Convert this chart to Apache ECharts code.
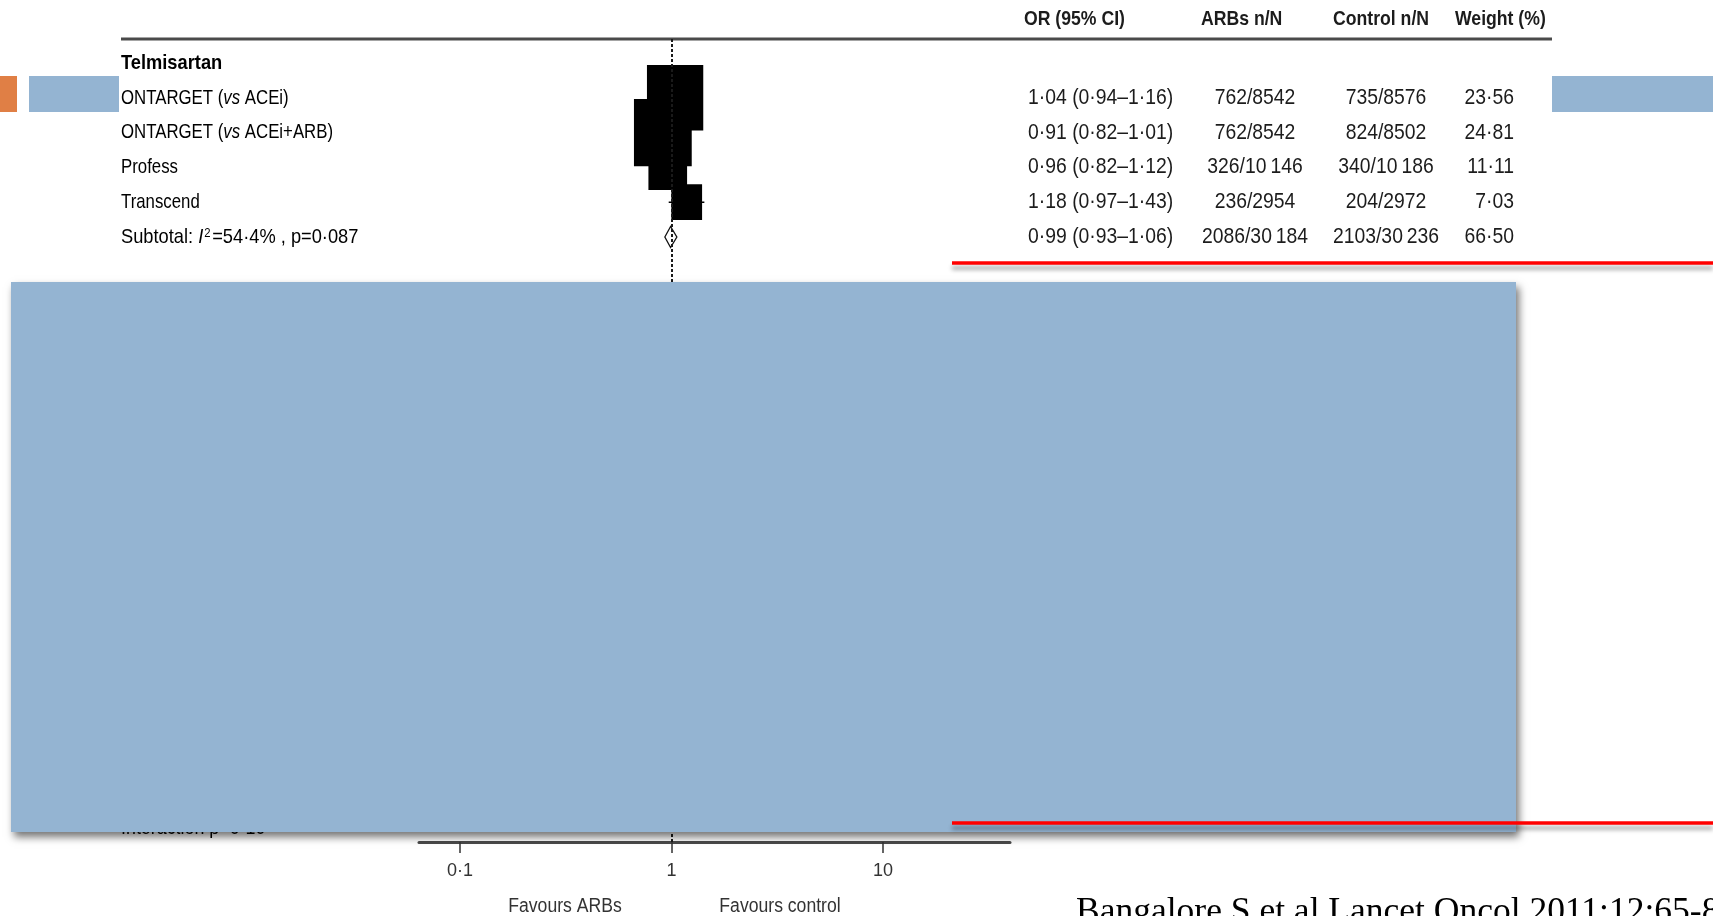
<!DOCTYPE html>
<html><head><meta charset="utf-8">
<script src="https://cdn.jsdelivr.net/npm/echarts@6/dist/echarts.min.js"></script>
<style>html,body{margin:0;padding:0;background:#fff;overflow:hidden}#c{width:1713px;height:916px;}</style>
</head><body><div id="c"></div>
<script>
// ---------------- data ----------------
const groupName = 'Telmisartan';
const studies = ['ONTARGET (vs ACEi)', 'ONTARGET (vs ACEi+ARB)', 'Profess', 'Transcend'];
const orValues = [1.04, 0.91, 0.96, 1.18];
const ciLower = [0.94, 0.82, 0.82, 0.97];
const ciUpper = [1.16, 1.01, 1.12, 1.43];
const arbsCounts = ['762/8542', '762/8542', '326/10\u2009146', '236/2954'];
const controlCounts = ['735/8576', '824/8502', '340/10\u2009186', '204/2972'];
const weights = [23.56, 24.81, 11.11, 7.03];
const subtotalOR = [0.99, 0.93, 1.06];
const subtotalArbs = '2086/30\u2009184';
const subtotalControl = '2103/30\u2009236';
const subtotalWeight = 66.50;
const subtotalI2 = 54.4;
const subtotalP = 0.087;
const headers = ['OR (95% CI)', 'ARBs n/N', 'Control n/N', 'Weight (%)'];
const xTicks = [0.1, 1, 10];
const favours = ['Favours ARBs', 'Favours control'];
const hiddenNote = 'Interaction p=0·10';
const citation = 'Bangalore S et al Lancet Oncol 2011;12:65-82';

// ---------------- styling ----------------
const SANS = "'Liberation Sans', Arial, sans-serif";
const SERIF = "'Liberation Serif', 'DejaVu Serif', serif";
const INK = '#1c1c1c';
const COL = { label: 121, or: 1028, arbs: 1255, control: 1386, weight: 1514 };
const HEAD_X = [1024, 1201, 1333, 1455];
const LBL = 21, NUM = 22;
const SX_LBL = 0.80, SX_NUM = 0.88, SX_HEAD = 0.84;
const dot = (v, d) => v.toFixed(d).replace('.', '·');

// table rows built from the arrays
const tableRows = [{ row: 0, sx: 0.87, label: '{b|' + groupName + '}' }];
studies.forEach((s, i) => {
  tableRows.push({
    row: i + 1, sx: SX_LBL,
    label: '{n|' + s.replace(/vs/, '}{i|vs}{n|') + '}',
    or: dot(orValues[i], 2) + ' (' + dot(ciLower[i], 2) + '–' + dot(ciUpper[i], 2) + ')',
    arbs: arbsCounts[i], control: controlCounts[i], weight: dot(weights[i], 2)
  });
});
tableRows.push({
  row: 5, sx: 0.87,
  label: '{n|Subtotal: }{i|I}{s|2}{n|=' + dot(subtotalI2, 1) + '% , p=' + dot(subtotalP, 3) + '}',
  or: dot(subtotalOR[0], 2) + ' (' + dot(subtotalOR[1], 2) + '–' + dot(subtotalOR[2], 2) + ')',
  arbs: subtotalArbs, control: subtotalControl, weight: dot(subtotalWeight, 2)
});
tableRows.push({ row: 22, sx: 0.85, label: '{n|' + hiddenNote + '}' });

const rich = {
  n: { fontFamily: SANS, fontSize: LBL, color: INK },
  b: { fontFamily: SANS, fontSize: LBL, fontWeight: 'bold', color: INK },
  i: { fontFamily: SANS, fontSize: LBL, fontStyle: 'italic', color: INK },
  s: { fontFamily: SANS, fontSize: 13, color: INK, verticalAlign: 'top', padding: [0, 2, 0, 1] }
};

function sText(x, y, text, size, sx, align, extra) {
  return {
    type: 'text', x, y, scaleX: sx, originX: 0, originY: 0,
    style: Object.assign({ text, fill: INK, fontFamily: SANS, fontSize: size, align, verticalAlign: 'middle' }, extra || {})
  };
}

const chart = echarts.init(document.getElementById('c'), null, { renderer: 'canvas' });

const option = {
  animation: false,
  backgroundColor: '#fff',
  grid: { left: 419, right: 703, top: 39, bottom: 74, containLabel: false, outerBoundsMode: 'none' },
  xAxis: {
    type: 'log', logBase: 10, min: 0.06398, max: 39.86, position: 'bottom',
    axisLine: { onZero: false, lineStyle: { color: '#4a4a4a', width: 3 } },
    axisTick: { customValues: xTicks, length: 11, lineStyle: { color: '#333', width: 1.5 } },
    axisLabel: { customValues: xTicks, formatter: v => String(v).replace('.', '·'), fontFamily: SANS, fontSize: 18, color: '#333', margin: 20 },
    splitLine: { show: false }, minorTick: { show: false }
  },
  yAxis: { type: 'value', inverse: true, min: -0.69, max: 22.385, show: false },
  series: [
    {
      type: 'custom', name: 'studies', clip: false, z: 3,
      data: orValues.map((v, i) => [v, i + 1, ciLower[i], ciUpper[i], weights[i]]),
      encode: { x: 0, y: 1 },
      renderItem(params, api) {
        const row = api.value(1);
        const c = api.coord([api.value(0), row]);
        const lo = api.coord([api.value(2), row]);
        const hi = api.coord([api.value(3), row]);
        const sw = 11.6 * Math.sqrt(api.value(4));
        const sh = 13.5 * Math.sqrt(api.value(4));
        return {
          type: 'group', children: [
            { type: 'line', shape: { x1: lo[0], y1: c[1], x2: hi[0], y2: c[1] }, style: { stroke: '#000', lineWidth: 1.5 } },
            { type: 'rect', shape: { x: c[0] - sw / 2, y: c[1] - sh / 2, width: sw, height: sh }, style: { fill: '#000' } }
          ]
        };
      },
      markLine: {
        silent: true, symbol: 'none', label: { show: false },
        lineStyle: { color: '#1a1a1a', width: 2, type: [3, 2] },
        data: [{ xAxis: 1 }]
      }
    },
    {
      type: 'custom', name: 'subtotal', clip: false, z: 4,
      data: [[subtotalOR[0], 5, subtotalOR[1], subtotalOR[2]]],
      encode: { x: 0, y: 1 },
      renderItem(params, api) {
        const row = api.value(1);
        const c = api.coord([api.value(0), row]);
        const lo = api.coord([api.value(2), row]);
        const hi = api.coord([api.value(3), row]);
        return {
          type: 'polygon',
          shape: { points: [[lo[0], c[1]], [c[0], c[1] - 10.5], [hi[0], c[1]], [c[0], c[1] + 10.5]] },
          style: { fill: 'rgba(255,255,255,0)', stroke: '#111', lineWidth: 1.3 }
        };
      }
    },
    {
      type: 'custom', name: 'table', clip: false, z: 5, silent: true,
      data: tableRows.map(r => [1, r.row]),
      encode: { x: 0, y: 1 },
      renderItem(params, api) {
        const r = tableRows[params.dataIndex];
        const y = api.coord([1, r.row])[1];
        const ch = [{ type: 'text', x: COL.label, y, scaleX: r.sx, originX: 0, originY: 0,
          style: { text: r.label, rich, align: 'left', verticalAlign: 'middle' } }];
        if (r.or) {
          ch.push(sText(COL.or, y, r.or, NUM, SX_NUM, 'left'));
          ch.push(sText(COL.arbs, y, r.arbs, NUM, SX_NUM, 'center'));
          ch.push(sText(COL.control, y, r.control, NUM, SX_NUM, 'center'));
          ch.push(sText(COL.weight, y, r.weight, NUM, SX_NUM, 'right'));
        }
        return { type: 'group', children: ch };
      }
    }
  ],
  graphic: [
    { type: 'line', shape: { x1: 121, y1: 39, x2: 1552, y2: 39 }, style: { stroke: '#4a4a4a', lineWidth: 3 }, z: 1 },
    ...headers.map((h, i) => Object.assign(sText(HEAD_X[i], 19, h, 21, SX_HEAD, 'left', { fontWeight: 'bold' }), { z: 5 })),
    Object.assign(sText(565, 906, favours[0], 20, 0.88, 'center', { fill: '#333' }), { z: 5 }),
    Object.assign(sText(780, 906, favours[1], 20, 0.88, 'center', { fill: '#333' }), { z: 5 }),
    { type: 'text', x: 1076, y: 913, style: { text: citation, fill: '#000', fontFamily: SERIF, fontSize: 35.5, align: 'left', verticalAlign: 'middle' }, z: 5 },
    // slide decorations
    { type: 'rect', shape: { x: 0, y: 76, width: 17, height: 36 }, style: { fill: '#E07F45' }, z: 20 },
    { type: 'rect', shape: { x: 29, y: 76, width: 90, height: 36 }, style: { fill: '#94B4D2' }, z: 20 },
    { type: 'rect', shape: { x: 1552, y: 76, width: 161, height: 36 }, style: { fill: '#94B4D2' }, z: 20 },
    { type: 'rect', shape: { x: 11, y: 282, width: 1505, height: 550 }, style: { fill: '#94B4D2', shadowBlur: 8, shadowOffsetX: 3, shadowOffsetY: 5, shadowColor: 'rgba(0,0,0,0.55)' }, z: 30 },
    { type: 'line', shape: { x1: 952, y1: 263, x2: 1713, y2: 263 }, style: { stroke: '#FF0000', lineWidth: 3.5, shadowBlur: 4, shadowOffsetY: 5, shadowColor: 'rgba(0,0,0,0.35)' }, z: 40 },
    { type: 'line', shape: { x1: 952, y1: 823, x2: 1713, y2: 823 }, style: { stroke: '#FF0000', lineWidth: 3.5, shadowBlur: 4, shadowOffsetY: 5, shadowColor: 'rgba(0,0,0,0.35)' }, z: 40 }
  ]
};
chart.setOption(option);
</script>
</body></html>
